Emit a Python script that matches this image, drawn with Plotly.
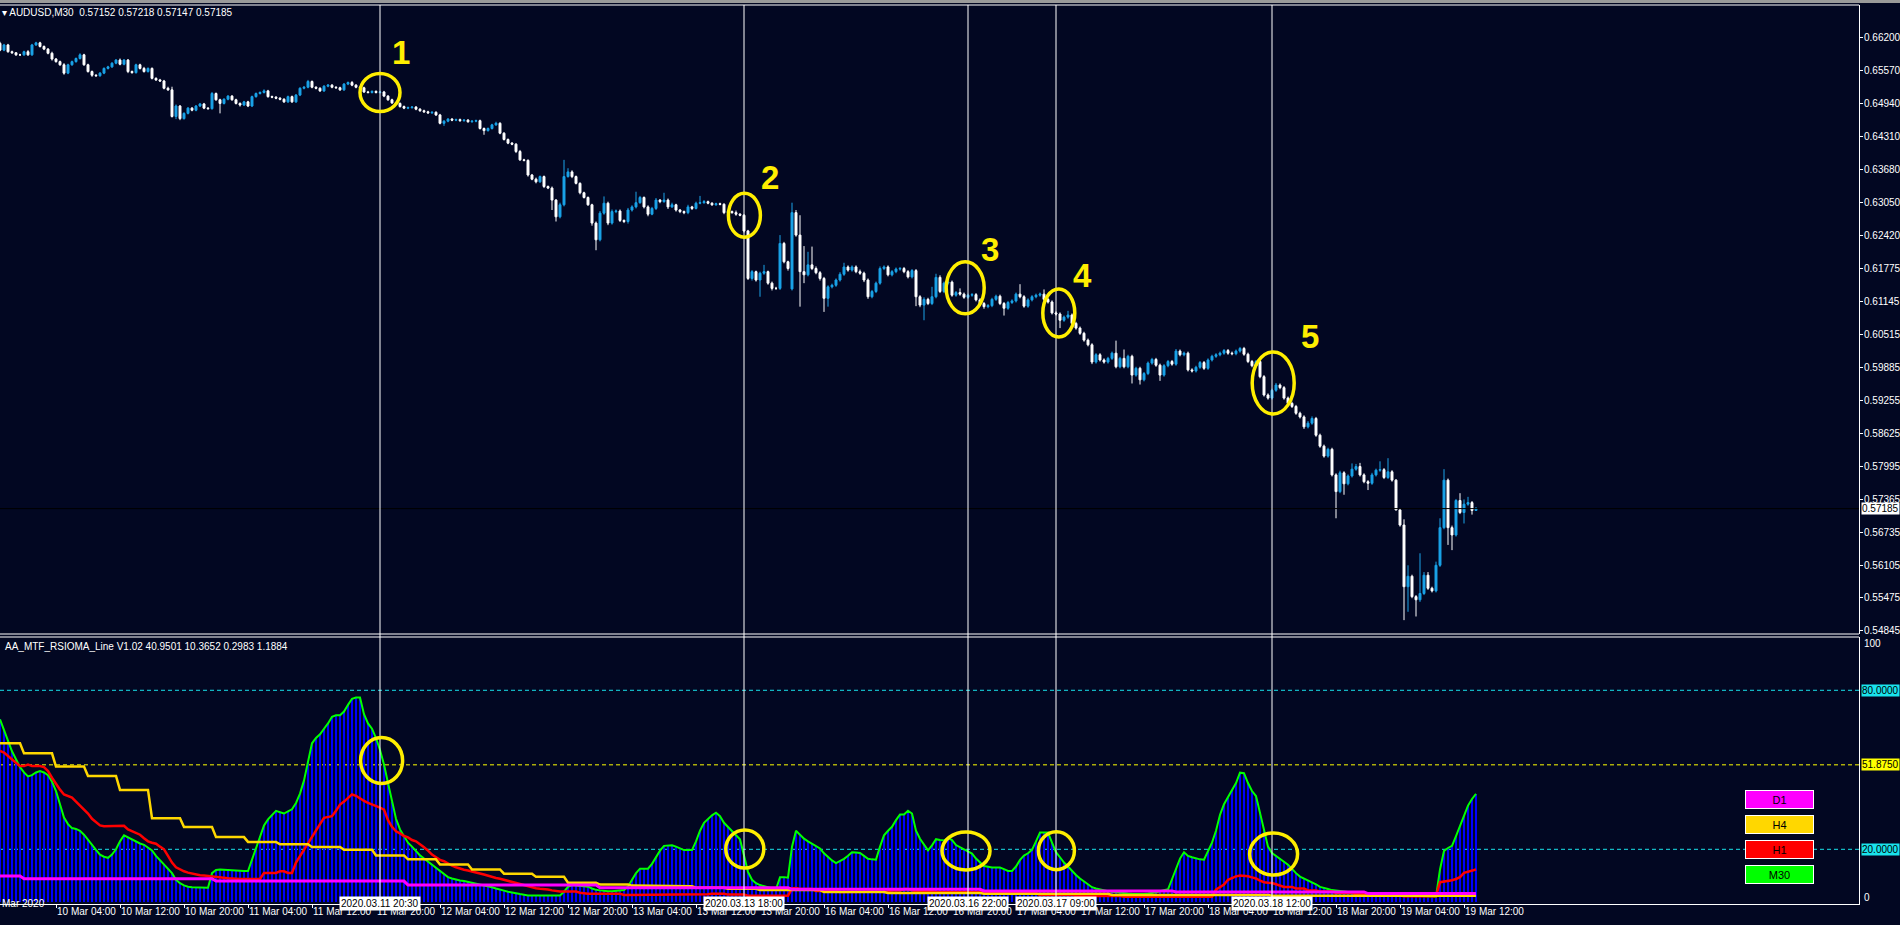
import plotly.graph_objects as go

# ---------------- DATA ----------------
# AUDUSD M30 closes, bar 0 = 2020.03.09 21:00 ... bar 369 = 2020.03.19 13:30
closes = [
    0.6596, 0.6606, 0.6593, 0.6591, 0.6587, 0.6587, 0.6593, 0.6587, 0.6606, 0.6610,
    0.6603, 0.6598, 0.6590, 0.6579, 0.6574, 0.6568, 0.6552, 0.6568, 0.6574, 0.6580,
    0.6587, 0.6568, 0.6555, 0.6548, 0.6547, 0.6552, 0.6561, 0.6564, 0.6571, 0.6577,
    0.6569, 0.6577, 0.6555, 0.6553, 0.6568, 0.6561, 0.6555, 0.6561, 0.6542, 0.6539,
    0.6537, 0.6523, 0.6520, 0.6469, 0.6489, 0.6465, 0.6475, 0.6485, 0.6481, 0.6489,
    0.6493, 0.6485, 0.6484, 0.6513, 0.6501, 0.6494, 0.6502, 0.6508, 0.6501, 0.6494,
    0.6491, 0.6497, 0.6489, 0.6507, 0.6513, 0.6515, 0.6518, 0.6507, 0.6506, 0.6504,
    0.6502, 0.6497, 0.6507, 0.6497, 0.6510, 0.6523, 0.6525, 0.6536, 0.6525, 0.6523,
    0.6518, 0.6527, 0.6529, 0.6525, 0.6524, 0.6520, 0.6531, 0.6534, 0.6529, 0.6525,
    0.6524, 0.6516, 0.6515, 0.6517, 0.6515, 0.6516, 0.6508, 0.6501, 0.6495, 0.6494,
    0.6488, 0.6485, 0.6486, 0.6487, 0.6483, 0.6480, 0.6478, 0.6476, 0.6477, 0.6472,
    0.6456, 0.6460, 0.6464, 0.6462, 0.6463, 0.6461, 0.6462, 0.6459, 0.6460, 0.6461,
    0.6446, 0.6442, 0.6446, 0.6453, 0.6456, 0.6437, 0.6425, 0.6418, 0.6416, 0.6402,
    0.6386, 0.6385, 0.6357, 0.6349, 0.6344, 0.6354, 0.6335, 0.6332, 0.6309, 0.6277,
    0.6300, 0.6354, 0.6363, 0.6354, 0.6341, 0.6323, 0.6314, 0.6300, 0.6265, 0.6233,
    0.6284, 0.6303, 0.6265, 0.6287, 0.6288, 0.6270, 0.6268, 0.6290, 0.6296, 0.6304,
    0.6314, 0.6296, 0.6282, 0.6293, 0.6309, 0.6306, 0.6309, 0.6296, 0.6300, 0.6290,
    0.6287, 0.6285, 0.6296, 0.6293, 0.6303, 0.6304, 0.6306, 0.6303, 0.6300, 0.6302,
    0.6301, 0.6285, 0.6287, 0.6285, 0.6282, 0.6280, 0.6250, 0.6159, 0.6172, 0.6156,
    0.6169, 0.6172, 0.6150, 0.6140, 0.6140, 0.6226, 0.6191, 0.6178, 0.6285, 0.6242,
    0.6172, 0.6166, 0.6185, 0.6178, 0.6170, 0.6159, 0.6121, 0.6143, 0.6146, 0.6156,
    0.6167, 0.6181, 0.6175, 0.6181, 0.6172, 0.6169, 0.6156, 0.6124, 0.6134, 0.6150,
    0.6178, 0.6181, 0.6166, 0.6172, 0.6177, 0.6178, 0.6172, 0.6162, 0.6174, 0.6124,
    0.6108, 0.6119, 0.6111, 0.6124, 0.6161, 0.6134, 0.6150, 0.6152, 0.6127, 0.6132,
    0.6129, 0.6123, 0.6127, 0.6128, 0.6118, 0.6111, 0.6105, 0.6107, 0.6119, 0.6125,
    0.6111, 0.6102, 0.6113, 0.6116, 0.6129, 0.6124, 0.6106, 0.6118, 0.6124, 0.6127,
    0.6129, 0.6119, 0.6114, 0.6093, 0.6091, 0.6079, 0.6085, 0.6089, 0.6073, 0.6064,
    0.6054, 0.6041, 0.6032, 0.5999, 0.6013, 0.6003, 0.5999, 0.6006, 0.6016, 0.5990,
    0.6006, 0.5990, 0.6010, 0.5974, 0.5987, 0.5965, 0.5977, 0.5997, 0.6004, 0.5993,
    0.5974, 0.5992, 0.6000, 0.5995, 0.6020, 0.6013, 0.6016, 0.5984, 0.5982, 0.5989,
    0.5998, 0.5987, 0.6003, 0.6010, 0.6013, 0.6016, 0.6021, 0.6016, 0.6015, 0.6020,
    0.6025, 0.6014, 0.6000, 0.5992, 0.6000, 0.5971, 0.5936, 0.5930, 0.5945, 0.5955,
    0.5950, 0.5930, 0.5920, 0.5914, 0.5901, 0.5894, 0.5875, 0.5882, 0.5891, 0.5859,
    0.5838, 0.5819, 0.5832, 0.5783, 0.5751, 0.5787, 0.5766, 0.5781, 0.5794, 0.5799,
    0.5783, 0.5770, 0.5767, 0.5783, 0.5792, 0.5793, 0.5778, 0.5789, 0.5773, 0.5716,
    0.5687, 0.5569, 0.5589, 0.5550, 0.5544, 0.5556, 0.5591, 0.5566, 0.5561, 0.5610,
    0.5682, 0.5773, 0.5682, 0.5668, 0.5734, 0.5711, 0.5727, 0.5730, 0.5715, 0.57185,
]
# wick lengths above / below the candle body, in pips
upper_wick_pips = [
    3, 2, 2, 2, 1, 2, 2, 3, 2, 2,   2, 2, 2, 3, 2, 2, 3, 2, 2, 2,
    3, 2, 2, 2, 2, 2, 2, 2, 2, 2,   3, 2, 2, 2, 2, 2, 3, 2, 2, 2,
    2, 2, 3, 6, 3, 2, 2, 2, 2, 2,   2, 2, 2, 3, 2, 2, 2, 2, 2, 2,
    2, 2, 2, 2, 2, 2, 3, 2, 2, 2,   2, 2, 2, 2, 2, 2, 2, 3, 2, 2,
    2, 2, 2, 2, 2, 2, 2, 2, 3, 2,   2, 2, 2, 2, 2, 2, 2, 2, 2, 2,
    2, 2, 2, 2, 2, 2, 2, 2, 2, 2,   2, 2, 2, 2, 2, 2, 2, 2, 2, 2,
    2, 2, 2, 2, 3, 2, 2, 2, 2, 2,   3, 2, 2, 2, 3, 2, 2, 2, 3, 2,
    4, 32, 7, 3, 2, 2, 2, 2, 2, 3,  4, 13, 3, 4, 3, 3, 2, 4, 3, 21,
    3, 2, 3, 3, 4, 2, 14, 3, 4, 2,  2, 2, 4, 2, 3, 13, 3, 2, 2, 2,
    2, 2, 2, 2, 4, 2, 2, 2, 3, 2,   3, 13, 2, 3, 3, 16, 3, 2, 19, 5,
    38, 49, 25, 35, 4, 3, 3, 3, 3, 3,  4, 8, 3, 3, 3, 4, 3, 3, 3, 3,
    4, 3, 3, 3, 3, 3, 3, 3, 3, 3,   3, 4, 3, 19, 7, 4, 3, 3, 3, 3,
    8, 3, 3, 3, 3, 3, 3, 3, 3, 3,   3, 3, 3, 3, 3, 19, 3, 3, 3, 3,
    3, 9, 3, 3, 3, 3, 3, 8, 3, 3,   3, 3, 3, 3, 3, 3, 3, 3, 3, 24,
    3, 17, 3, 3, 3, 3, 3, 3, 3, 3,  3, 3, 3, 3, 4, 3, 3, 3, 3, 3,
    3, 3, 3, 3, 3, 3, 3, 3, 3, 3,   3, 3, 3, 3, 3, 3, 3, 3, 3, 4,
    3, 3, 3, 3, 3, 3, 3, 4, 4, 3,   3, 3, 3, 3, 3, 4, 3, 3, 11, 5,
    7, 3, 3, 4, 3, 16, 3, 26, 3, 2,  3, 11, 21, 3, 3, 77, 6, 6, 3, 7,
    18, 21, 3, 4, 3, 14, 9, 11, 3, 3,
]
lower_wick_pips = [
    2, 2, 2, 2, 2, 2, 2, 2, 2, 2,   2, 2, 2, 3, 2, 2, 3, 2, 2, 2,
    2, 2, 2, 3, 2, 2, 2, 2, 2, 2,   2, 2, 3, 2, 2, 2, 2, 2, 2, 2,
    2, 2, 2, 2, 5, 3, 2, 2, 2, 2,   2, 2, 2, 2, 2, 19, 2, 2, 2, 2,
    3, 2, 2, 2, 2, 2, 2, 2, 2, 2,   2, 2, 2, 2, 2, 2, 2, 2, 2, 2,
    2, 2, 2, 2, 2, 2, 2, 2, 2, 2,   2, 2, 2, 2, 2, 2, 2, 2, 2, 2,
    2, 2, 2, 2, 2, 2, 2, 2, 2, 2,   2, 5, 2, 2, 2, 2, 2, 2, 2, 2,
    2, 8, 2, 2, 2, 2, 2, 2, 2, 3,   2, 2, 3, 2, 3, 2, 3, 2, 19, 9,
    3, 3, 2, 3, 2, 3, 2, 2, 5, 20,  3, 3, 4, 3, 3, 3, 3, 4, 3, 3,
    2, 3, 4, 2, 3, 3, 2, 4, 2, 3,   3, 3, 3, 3, 2, 2, 2, 2, 2, 2,
    2, 3, 2, 2, 3, 2, 3, 3, 4, 3,   32, 3, 3, 4, 3, 3, 3, 4, 3, 3,
    67, 16, 3, 3, 3, 4, 26, 16, 3, 3,  3, 3, 3, 3, 3, 3, 4, 4, 3, 3,
    3, 3, 3, 3, 3, 3, 3, 3, 3, 18,  4, 29, 3, 3, 3, 3, 3, 3, 3, 3,
    3, 3, 3, 3, 3, 3, 4, 3, 3, 3,   3, 14, 3, 3, 3, 3, 3, 3, 3, 3,
    3, 3, 3, 3, 3, 15, 3, 3, 3, 3,  3, 3, 3, 4, 3, 3, 3, 3, 3, 3,
    3, 3, 3, 16, 3, 9, 3, 3, 3, 3,  11, 3, 3, 3, 3, 3, 3, 3, 3, 3,
    3, 3, 3, 3, 3, 3, 3, 3, 3, 3,   3, 3, 3, 3, 3, 3, 3, 3, 3, 3,
    3, 3, 3, 3, 3, 3, 4, 3, 3, 3,   3, 3, 3, 3, 51, 3, 21, 3, 3, 3,
    3, 3, 13, 3, 3, 3, 3, 3, 3, 1,  3, 64, 48, 3, 32, 4, 3, 3, 3, 3,
    3, 3, 33, 29, 3, 3, 21, 3, 8, 0.5,
]
first_open = 0.6609
gap_open_bar = 198          # Monday 2020.03.16 00:00 opened with a gap
gap_open_price = 0.6139

# AA_MTF_RSIOMA_Line values
m30_rsioma = [
    69, 65, 61, 57, 54, 51, 49, 47.5, 48, 49,
    49.5, 49, 48, 45.5, 42, 37, 32, 29.5, 28, 27.7,
    27, 25.5, 23.5, 21.5, 19.8, 18, 17.2, 16.8, 18, 20,
    23, 25.3, 24.5, 23.5, 22.8, 22.2, 21.7, 20.8, 19.6, 17.5,
    15.8, 14, 12.5, 11, 8.5, 7.2, 6.4, 5.9, 5.7, 5.6,
    5.5, 5.5, 5.5, 11, 12.2, 12.4, 12.3, 12.2, 12, 11.8,
    11.8, 11.8, 11.8, 16, 20.5, 25, 29, 31.3, 33, 34.5,
    34, 33.5, 34.3, 35.1, 37.5, 41, 46, 53, 60, 62,
    63.4, 65.5, 67.5, 70, 70.6, 70.6, 72, 74.5, 76.8, 77.3,
    77.3, 71, 67.5, 65.5, 62, 57.5, 52, 45, 38, 31.5,
    27.5, 25, 22.5, 21, 19.3, 17.7, 16.5, 15.3, 14, 12.8,
    11.8, 10.5, 9.5, 9, 8.5, 8.2, 8, 7.7, 7.4, 7,
    6.7, 6.4, 6.1, 5.7, 5.2, 4.7, 4.4, 4, 3.6, 3.4,
    3.1, 2.8, 2.6, 2.6, 2.6, 2.6, 2.6, 2.6, 2.6, 2.6,
    2.6, 4, 5.8, 6.5, 6.4, 6.2, 6, 5.9, 5.2, 4.7,
    4.5, 4.3, 4.2, 4.2, 4.3, 4.5, 4.6, 6, 8.5, 11,
    12.7, 12.7, 12.7, 14.5, 17, 19.5, 21.3, 21.5, 21.5, 21,
    20.2, 19.7, 19.7, 19.7, 23, 27, 30, 31.5, 32.8, 33.8,
    32.5, 30, 28.3, 27, 25.3, 23.8, 17.8, 11.5, 8.5, 7.2,
    6.5, 6, 5.5, 5.2, 4.9, 9.5, 9.5, 9.3, 21, 27,
    25.5, 24, 23, 22, 21.3, 20.3, 18.5, 17, 15.8, 14.8,
    15.5, 16.4, 17.6, 18.9, 18.8, 18.6, 17.5, 16.4, 16.2, 16.1,
    21, 25.3, 27, 28.5, 31, 33.1, 33.1, 34.5, 33.5, 27,
    24, 21.8, 19.6, 21.5, 23.8, 23.5, 23.3, 24.3, 23.5, 21.6,
    20.8, 20, 19.3, 18.4, 16.5, 15, 13.7, 13.4, 13.1, 13.1,
    13.1, 12.5, 11.8, 11.8, 13.5, 16, 17.6, 18.5, 19.8, 23,
    26.3, 26.3, 26.3, 22.5, 18.9, 17, 15, 13.5, 11.8, 10.3,
    9, 8, 6.8, 5.7, 5.2, 4.8, 4.5, 4.2, 4, 3.8,
    3.5, 3.4, 3.3, 3.2, 3.1, 3, 3.1, 3.3, 3.5, 3.8,
    4.2, 4.5, 4.9, 8.7, 12.4, 16.5, 18.9, 17.5, 17, 16.5,
    16.2, 16.1, 19, 22.5, 27, 33, 37, 39.5, 42.5, 45,
    48.9, 48.7, 45, 42, 40.1, 34, 27.5, 21, 18.6, 17.6,
    16.4, 15.3, 14.2, 12.5, 11, 9.7, 9, 8.2, 7.5, 6.8,
    5.8, 5.3, 5, 4.6, 4.4, 4.2, 3.9, 3.8, 3.7, 3.6,
    3.5, 3.4, 3.3, 3.2, 3.1, 3.1, 3, 2.9, 2.8, 2.8,
    2.7, 2.6, 2.6, 2.5, 2.4, 2.3, 2.2, 2.1, 2.1, 2.1,
    12.4, 19.4, 20.5, 21.3, 25, 28.8, 32.5, 36.5, 39, 40.95,
]
h1_rsioma = [
    57.1, 56.5, 55.2, 54.0, 52.5, 51.4, 51.4, 52.0, 51.4, 51.4,
    51.4, 51.0, 49.5, 47.0, 44.5, 42.5, 40.7, 40.2, 39.5, 38.0,
    36.5, 35.0, 33.5, 31.5, 30.2, 29.0, 28.7, 28.7, 28.7, 28.8,
    28.9, 28.9, 27.5, 26.8, 26.0, 25.5, 24.2, 23.0, 22.5, 22.1,
    21.0, 20.0, 17.5, 15.0, 13.2, 12.3, 11.7, 11.2, 10.8, 10.5,
    10.2, 10.1, 9.9, 9.8, 9.6, 9.4, 9.2, 9.1, 9.0, 8.8,
    8.8, 8.8, 8.8, 8.8, 8.8, 8.8, 11.1, 11.1, 11.1, 11.1,
    11.7, 11.7, 11.1, 11.1, 15.0, 17.5, 19.9, 22.0, 24.5, 27.5,
    29.5, 31.9, 32.2, 32.5, 34.5, 36.9, 38.0, 39.5, 40.7, 40.2,
    39.1, 38.3, 37.5, 37.0, 36.5, 35.7, 35.0, 31.0, 28.5, 26.8,
    26.0, 25.0, 24.5, 23.5, 23.0, 22.0, 20.8, 19.5, 18.0, 17.0,
    16.0, 15.5, 14.5, 13.8, 13.2, 12.6, 12.3, 12.0, 11.7, 11.3,
    10.9, 10.5, 10.0, 9.6, 9.2, 8.9, 8.5, 8.0, 7.6, 7.3,
    6.8, 6.3, 5.9, 5.6, 5.3, 5.1, 5.0, 4.8, 4.5, 4.2,
    4.1, 4.1, 4.1, 4.1, 4.1, 3.6, 3.3, 3.2, 3.2, 3.2,
    3.2, 3.2, 3.2, 3.2, 3.2, 3.2, 2.8, 2.8, 2.8, 2.8,
    2.8, 2.8, 2.8, 2.8, 2.8, 2.8, 2.8, 2.8, 3.0, 3.0,
    2.8, 2.8, 2.8, 2.8, 2.8, 2.8, 3.0, 3.0, 3.2, 3.2,
    3.2, 3.2, 2.9, 2.9, 2.9, 2.9, 2.9, 2.5, 2.5, 2.5,
    2.5, 2.5, 2.5, 2.5, 2.5, 2.5, 2.5, 2.5, 5.2, 5.4,
    5.0, 5.0, 5.0, 5.0, 4.3, 4.3, 4.3, 4.3, 4.3, 4.3,
    3.9, 3.9, 3.9, 3.9, 3.9, 3.9, 3.9, 4.1, 4.1, 4.1,
    4.1, 4.1, 4.1, 4.5, 4.5, 4.5, 5.0, 5.0, 4.5, 4.2,
    4.2, 4.2, 4.2, 4.2, 3.9, 3.9, 3.9, 3.9, 3.9, 3.9,
    3.9, 3.9, 3.9, 3.9, 3.9, 3.9, 3.8, 3.8, 3.8, 3.8,
    3.8, 3.8, 3.8, 3.4, 3.4, 3.4, 3.4, 3.4, 3.4, 3.4,
    2.8, 2.8, 2.8, 2.8, 2.8, 2.8, 2.8, 2.8, 2.8, 2.4,
    2.4, 2.4, 2.4, 2.4, 2.4, 2.4, 2.4, 2.4, 2.4, 2.4,
    2.4, 2.1, 2.1, 2.1, 2.1, 2.1, 2.1, 2.1, 2.1, 2.1,
    2.1, 2.1, 2.1, 2.1, 2.1, 2.1, 2.1, 2.1, 2.1, 2.1,
    2.1, 2.1, 2.1, 2.1, 4.8, 5.8, 6.7, 8.5, 9.2, 9.8,
    10.1, 10.0, 9.8, 9.4, 9.0, 8.2, 7.6, 7.4, 7.3, 6.8,
    6.3, 5.8, 5.8, 5.8, 5.2, 5.2, 5.2, 4.5, 4.5, 4.5,
    4.1, 4.1, 4.1, 4.1, 3.6, 3.6, 3.6, 3.6, 3.6, 3.0,
    3.0, 3.0, 3.0, 3.0, 2.6, 2.6, 2.6, 2.6, 2.6, 2.6,
    2.6, 2.3, 2.3, 2.3, 2.3, 2.3, 2.3, 2.3, 2.3, 2.3,
    7.6, 7.8, 8.0, 8.3, 8.8, 9.5, 11.1, 11.5, 12.0, 12.4,
]
# H4 values, one per 4-hour block (first block = bars 0-5, then 8 bars each)
h4_blocks = [60, 56.2, 51.2, 47.7, 42.4, 31.7, 28.4, 24.6, 22.8, 21.9, 20.9, 19.8,
             17.7, 16.2, 14.3, 12.4, 10.8, 9.6, 7.4, 6.7, 6.3, 6.1, 5.5, 5.1,
             4.6, 4.6, 3.9, 3.9, 3.5, 3.5, 3.5, 3.2, 3.2, 3.2, 3.2, 2.8, 2.8,
             2.8, 2.8, 2.8, 2.5, 2.5, 2.5, 2.5, 2.5, 2.5, 2.5]
# D1 values, one per trading day
d1_days = [9.9, 8.9, 8.0, 6.5, 5.5, 4.9, 4.3, 3.9, 3.3]
d1_day_start_bars = [0, 6, 54, 102, 150, 198, 246, 294, 342]

price_ticks = [0.66200, 0.65570, 0.64940, 0.64310, 0.63680, 0.63050, 0.62420,
               0.61775, 0.61145, 0.60515, 0.59885, 0.59255, 0.58625, 0.57995,
               0.57365, 0.56735, 0.56105, 0.55475, 0.54845]
time_tick_bars = [14, 30, 46, 62, 78, 94, 110, 126, 142, 158, 174, 190, 206,
                  222, 238, 254, 270, 286, 302, 318, 334, 350, 366]
time_tick_labels = ["10 Mar 04:00", "10 Mar 12:00", "10 Mar 20:00", "11 Mar 04:00",
                    "11 Mar 12:00", "11 Mar 20:00", "12 Mar 04:00", "12 Mar 12:00",
                    "12 Mar 20:00", "13 Mar 04:00", "13 Mar 12:00", "13 Mar 20:00",
                    "16 Mar 04:00", "16 Mar 12:00", "16 Mar 20:00", "17 Mar 04:00",
                    "17 Mar 12:00", "17 Mar 20:00", "18 Mar 04:00", "18 Mar 12:00",
                    "18 Mar 20:00", "19 Mar 04:00", "19 Mar 12:00"]
marker_bars = [95, 186, 242, 264, 318]
marker_labels = ["2020.03.11 20:30", "2020.03.13 18:00", "2020.03.16 22:00",
                 "2020.03.17 09:00", "2020.03.18 12:00"]
# circled price spots: (bar, price, number-label bar, number-label price, rx px, ry px)
price_circles = [(95.0, 0.6515, 100.3, 0.6592, 20, 19),
                 (186.1, 0.6280, 192.6, 0.6352, 16, 22),
                 (241.3, 0.6141, 247.5, 0.6214, 19, 26),
                 (264.7, 0.6093, 270.5, 0.6164, 16, 24),
                 (318.3, 0.5959, 327.5, 0.6047, 21, 31)]
# circled indicator spots: (bar, value, rx px, ry px)
ind_circles = [(95.4, 53.5, 21, 23), (186.2, 20.1, 19, 19), (241.5, 19.4, 24, 19),
               (264.1, 19.5, 18, 19), (318.4, 18.2, 24, 21)]
levels = [80.0, 51.875, 20.0]
last_price = 0.57185

# ---------------- derived series ----------------
n = len(closes)
bars = list(range(n))
opens = [first_open] + closes[:-1]
opens[gap_open_bar] = gap_open_price
highs = [max(o, c) + u * 0.0001 for o, c, u in zip(opens, closes, upper_wick_pips)]
lows = [min(o, c) - d * 0.0001 for o, c, d in zip(opens, closes, lower_wick_pips)]
h4_line = [h4_blocks[0 if i < 6 else (i - 6) // 8 + 1] for i in bars]
d1_line = []
for i in bars:
    k = max(j for j, s in enumerate(d1_day_start_bars) if s <= i)
    d1_line.append(d1_days[k])

# ---------------- styling ----------------
W, H = 1900, 925
BG = "#020722"
UP = "#1AA3E8"
FONT = "Liberation Sans"
YEL = "#FFEE00"
CYAN = "#19E3EC"
AX_FS = 10


def py(y):
    return 1 - y / H


def px(x):
    return x / W


x_right = px(1859)

fig = go.Figure()
fig.add_trace(go.Candlestick(
    x=bars, open=opens, high=highs, low=lows, close=closes,
    increasing=dict(line=dict(color=UP, width=1), fillcolor=UP),
    decreasing=dict(line=dict(color="#FFFFFF", width=1), fillcolor="#FFFFFF"),
    whiskerwidth=0, xaxis="x", yaxis="y", hoverinfo="skip", showlegend=False))

fig.add_trace(go.Bar(x=bars, y=m30_rsioma, width=0.45, marker=dict(color="#0000FF", line=dict(width=0)),
                     xaxis="x", yaxis="y2", hoverinfo="skip", showlegend=False))
fig.add_trace(go.Scatter(x=bars, y=m30_rsioma, mode="lines", line=dict(color="#00FF00", width=2),
                         xaxis="x", yaxis="y2", hoverinfo="skip", showlegend=False))
fig.add_trace(go.Scatter(x=bars, y=h1_rsioma, mode="lines", line=dict(color="#FF0000", width=2.5),
                         xaxis="x", yaxis="y2", hoverinfo="skip", showlegend=False))
fig.add_trace(go.Scatter(x=bars, y=h4_line, mode="lines", line=dict(color="#FFD700", width=2.5),
                         xaxis="x", yaxis="y2", hoverinfo="skip", showlegend=False))
fig.add_trace(go.Scatter(x=bars, y=d1_line, mode="lines", line=dict(color="#FF00FF", width=3),
                         xaxis="x", yaxis="y2", hoverinfo="skip", showlegend=False))

shapes = []
# window chrome strip at the very top
shapes.append(dict(type="rect", xref="paper", yref="paper", x0=0, x1=1, y0=py(3), y1=1,
                   fillcolor="#9a9a9a", line=dict(width=0), layer="above"))
# panel borders
for yy in (5, 634, 637):
    shapes.append(dict(type="line", xref="paper", yref="paper", x0=0, x1=x_right, y0=py(yy), y1=py(yy),
                       line=dict(color="#FFFFFF", width=1), layer="above"))
# indicator levels
for lv in levels:
    col = "#FFFF00" if lv == 51.875 else CYAN
    shapes.append(dict(type="line", xref="paper", yref="y2", x0=0, x1=x_right, y0=lv, y1=lv,
                       line=dict(color=col, width=1, dash="4px,3px"), layer="below"))
# current price line
shapes.append(dict(type="line", xref="paper", yref="y", x0=0, x1=x_right, y0=last_price, y1=last_price,
                   line=dict(color="#000000", width=1), layer="above"))
# vertical marker lines
for b in marker_bars:
    shapes.append(dict(type="line", xref="x", yref="paper", x0=b, x1=b, y0=py(904), y1=py(5),
                       line=dict(color="#FFFFFF", width=1), layer="above"))
# ellipses
for (b, p, lb, lp, rx, ry) in price_circles:
    shapes.append(dict(type="circle", xref="x", yref="y", xsizemode="pixel", ysizemode="pixel",
                       xanchor=b, yanchor=p, x0=-rx, x1=rx, y0=-ry, y1=ry,
                       line=dict(color=YEL, width=3.5), layer="above"))
for (b, v, rx, ry) in ind_circles:
    shapes.append(dict(type="circle", xref="x", yref="y2", xsizemode="pixel", ysizemode="pixel",
                       xanchor=b, yanchor=v, x0=-rx, x1=rx, y0=-ry, y1=ry,
                       line=dict(color=YEL, width=3.5), layer="above"))

ann = []
ann.append(dict(xref="paper", yref="paper", x=px(0), y=py(13), xanchor="left", yanchor="middle",
                text="▾ AUDUSD,M30  0.57152 0.57218 0.57147 0.57185", showarrow=False,
                font=dict(family=FONT, size=10, color="#FFFFFF")))
ann.append(dict(xref="paper", yref="paper", x=px(3), y=py(646), xanchor="left", yanchor="middle",
                text="AA_MTF_RSIOMA_Line V1.02 40.9501 10.3652 0.2983 1.1884", showarrow=False,
                font=dict(family=FONT, size=10, color="#FFFFFF")))
for k, (b, p, lb, lp, rx, ry) in enumerate(price_circles):
    ann.append(dict(xref="x", yref="y", x=lb, y=lp, text="<b>%d</b>" % (k + 1), showarrow=False,
                    font=dict(family=FONT, size=33, color=YEL)))
# marker time labels on the time axis
for b, t in zip(marker_bars, marker_labels):
    ann.append(dict(xref="x", yref="paper", x=b, y=py(911), text=t, showarrow=False,
                    bgcolor="#FFFFFF", borderpad=1, font=dict(family=FONT, size=AX_FS, color="#000000")))
ann.append(dict(xref="paper", yref="paper", x=0, y=py(911), xanchor="left", text="Mar 2020",
                showarrow=False, font=dict(family=FONT, size=AX_FS, color="#FFFFFF")))
# current price box
ann.append(dict(xref="paper", yref="y", x=px(1861), y=last_price, xanchor="left", text="%.5f" % last_price,
                showarrow=False, bgcolor="#FFFFFF", borderpad=0,
                font=dict(family=FONT, size=AX_FS, color="#000000")))
# indicator axis labels
for v, txt in [(97.8, "100"), (2.0, "0")]:
    ann.append(dict(xref="paper", yref="y2", x=px(1862), y=v, xanchor="left", text=txt, showarrow=False,
                    font=dict(family=FONT, size=AX_FS, color="#FFFFFF")))
for lv in levels:
    bg = "#FFFF00" if lv == 51.875 else CYAN
    ann.append(dict(xref="paper", yref="y2", x=px(1861), y=lv, xanchor="left", text="%.4f" % lv,
                    showarrow=False, bgcolor=bg, borderpad=0,
                    font=dict(family=FONT, size=AX_FS, color="#000000")))
# timeframe legend boxes
for txt, col, yc in [("D1", "#FF00FF", 808.5), ("H4", "#FFD700", 833.5), ("H1", "#FF0000", 858.5),
                     ("M30", "#00FF00", 883.5)]:
    ann.append(dict(xref="paper", yref="paper", x=px(1813.5), y=py(yc), text=txt, showarrow=False,
                    width=67, height=17, bgcolor=col, bordercolor="#FFFFFF", borderwidth=1, borderpad=0,
                    font=dict(family=FONT, size=11, color="#000000")))

fig.update_layout(
    template=None,
    width=W, height=H, margin=dict(l=0, r=0, t=0, b=0, autoexpand=False),
    paper_bgcolor=BG, plot_bgcolor=BG, showlegend=False, bargap=0,
    xaxis=dict(domain=[0, x_right], range=[0, 464.75], anchor="y2", showgrid=False, zeroline=False,
               automargin=False, tickangle=0,
               rangeslider=dict(visible=False), showline=True, linecolor="#FFFFFF", linewidth=1,
               tickmode="array", tickvals=time_tick_bars, ticktext=time_tick_labels,
               ticks="outside", ticklen=3, tickcolor="#FFFFFF", ticklabelposition="outside right",
               ticklabelstandoff=-2,
               tickfont=dict(family=FONT, size=AX_FS, color="#FFFFFF")),
    yaxis=dict(domain=[py(634), py(5)], range=[0.547849, 0.668240], side="right", anchor="x",
               automargin=False,
               showgrid=False, zeroline=False, showline=True, linecolor="#FFFFFF", linewidth=1,
               tickmode="array", tickvals=price_ticks, ticktext=["%.5f" % t for t in price_ticks],
               ticks="outside", ticklen=3, tickcolor="#FFFFFF", ticklabelstandoff=-1,
               tickfont=dict(family=FONT, size=AX_FS, color="#FFFFFF")),
    yaxis2=dict(domain=[py(904), py(637)], range=[-0.64, 100.11], side="right", anchor="x",
                automargin=False,
                showgrid=False, zeroline=False, showline=True, linecolor="#FFFFFF", linewidth=1,
                showticklabels=False, ticks=""),
    shapes=shapes, annotations=ann,
)

fig.write_html("out.html", config={"displayModeBar": False, "staticPlot": True},
               post_script="document.body.style.margin='0';document.body.style.overflow='hidden';")
